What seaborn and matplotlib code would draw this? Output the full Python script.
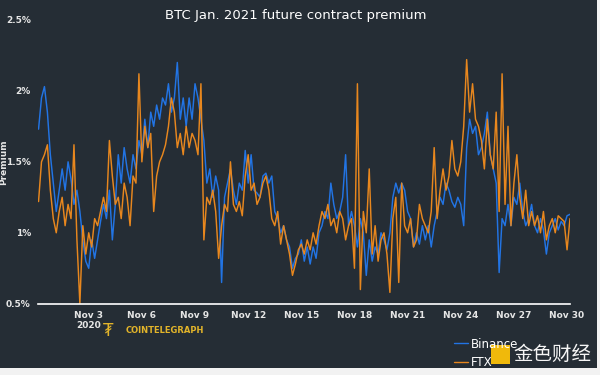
import numpy as np
import pandas as pd
import matplotlib
matplotlib.use("Agg")
import matplotlib.pyplot as plt
from matplotlib.patches import Rectangle
import seaborn as sns

# ---------------------------------------------------------------------------
# Data (premium in %, every 4 hours from Oct 31 04:00)
# ---------------------------------------------------------------------------
START = "2020-10-31 04:00"

binance = [
    1.73, 1.95, 2.03, 1.85, 1.55,
    1.35, 1.15, 1.30, 1.45, 1.30, 1.50,
    1.38, 1.20, 1.30, 1.15, 0.95, 0.80,
    0.75, 0.95, 0.82, 0.95, 1.08, 1.20,
    1.10, 1.30, 0.95, 1.20, 1.55, 1.35,
    1.60, 1.45, 1.35, 1.55, 1.45, 1.65,
    1.55, 1.80, 1.60, 1.85, 1.75, 1.90,
    1.80, 1.95, 1.90, 2.05, 1.85, 1.95,
    2.20, 1.80, 1.95, 1.75, 1.95, 1.80,
    2.05, 1.95, 1.80, 1.65, 1.35, 1.45,
    1.25, 1.40, 1.30, 0.65, 1.25, 1.35,
    1.45, 1.30, 1.20, 1.35, 1.30, 1.58,
    1.35, 1.55, 1.30, 1.28, 1.25, 1.40,
    1.42, 1.35, 1.40, 1.15, 1.10, 1.00,
    1.05, 0.95, 0.90, 0.75, 0.82, 0.85,
    0.95, 0.80, 0.90, 0.78, 0.90, 0.82,
    1.00, 1.05, 1.15, 1.10, 1.35, 1.20,
    1.10, 1.15, 1.25, 1.55, 1.05, 1.15,
    1.05, 0.90, 1.10, 1.00, 0.70, 0.95,
    0.80, 0.90, 0.85, 1.00, 0.95, 0.88,
    1.00, 1.25, 1.35, 1.28, 1.35, 1.30,
    1.15, 1.10, 0.90, 1.00, 0.92, 1.05,
    0.95, 1.05, 0.90, 1.05, 1.15, 1.25,
    1.20, 1.35, 1.30, 1.22, 1.18, 1.25,
    1.20, 1.05, 1.60, 1.80, 1.70, 1.75,
    1.55, 1.60, 1.70, 1.85, 1.55, 1.45,
    1.35, 0.72, 1.10, 1.05, 1.20, 1.05,
    1.25, 1.20, 1.35, 1.15, 1.05, 1.10,
    1.20, 1.05, 1.00, 1.10, 1.02, 0.85,
    1.00, 1.05, 1.10, 1.02, 1.08, 1.05,
    1.12, 1.13,
]

ftx = [
    1.22, 1.50, 1.55, 1.62, 1.30,
    1.10, 1.00, 1.15, 1.25, 1.05, 1.20,
    1.10, 1.62, 0.95, 0.50, 1.05, 0.85,
    1.00, 0.90, 1.10, 1.05, 1.15, 1.25,
    1.15, 1.65, 1.40, 1.20, 1.25, 1.10,
    1.35, 1.25, 1.05, 1.40, 1.35, 2.12,
    1.50, 1.75, 1.60, 1.70, 1.15, 1.40,
    1.50, 1.55, 1.62, 1.75, 1.95, 1.85,
    1.60, 1.70, 1.55, 1.75, 1.60, 1.70,
    1.65, 1.55, 2.05, 0.95, 1.25, 1.20,
    1.30, 1.15, 0.82, 1.05, 1.20, 1.15,
    1.50, 1.20, 1.15, 1.22, 1.12, 1.40,
    1.55, 1.30, 1.35, 1.20, 1.25, 1.35,
    1.40, 1.30, 1.10, 1.05, 1.15, 0.92,
    1.05, 0.95, 0.85, 0.70, 0.78, 0.88,
    0.92, 0.85, 0.95, 0.88, 1.00, 0.92,
    1.05, 1.15, 1.10, 1.20, 1.05, 1.10,
    1.00, 1.15, 1.10, 0.95, 1.05, 1.10,
    0.75, 2.05, 0.60, 1.15, 1.00, 1.45,
    0.85, 1.05, 0.80, 0.95, 1.00, 0.85,
    0.58, 1.10, 1.25, 0.65, 1.35, 1.05,
    1.00, 1.10, 0.90, 0.95, 1.20, 1.10,
    1.05, 1.00, 1.15, 1.60, 1.10, 1.30,
    1.45, 1.30, 1.40, 1.65, 1.45, 1.40,
    1.50, 1.75, 2.22, 1.85, 2.05, 1.80,
    1.75, 1.65, 1.45, 1.80, 1.55, 1.45,
    1.85, 1.15, 2.12, 1.20, 1.75, 1.05,
    1.35, 1.55, 1.25, 1.10, 1.30, 1.05,
    1.15, 1.05, 1.12, 1.00, 1.15, 0.95,
    1.05, 1.10, 1.00, 1.12, 1.10, 1.08,
    0.88, 1.10,
]

SERIES = ["Binance", "FTX"]
Y_TICKS = [0.5, 1.0, 1.5, 2.0, 2.5]
Y_LABELS = ["0.5%", "1%", "1.5%", "2%", "2.5%"]
X_TICKS = ["2020-11-03", "2020-11-06", "2020-11-09", "2020-11-12", "2020-11-15",
           "2020-11-18", "2020-11-21", "2020-11-24", "2020-11-27", "2020-11-30"]
X_LABELS = ["Nov 3\n2020", "Nov 6", "Nov 9", "Nov 12", "Nov 15",
            "Nov 18", "Nov 21", "Nov 24", "Nov 27", "Nov 30"]

BG = "#252d35"
TXT = "#e6e6e6"
COLORS = {"Binance": "#2274e4", "FTX": "#e8871e"}


def main():
    sns.set_theme(style="dark")
    plt.rcParams["font.family"] = ["DejaVu Sans"]

    times = pd.date_range(START, periods=len(binance), freq="4h")
    df = pd.DataFrame({"time": times, "Binance": binance, "FTX": ftx[:len(binance)]})
    long_df = df.melt(id_vars="time", value_vars=SERIES,
                      var_name="Exchange", value_name="Premium")

    fig = plt.figure(figsize=(6, 3.75), dpi=100, facecolor="#f2f2f2")
    # dark card, leaving a thin light margin at right and bottom
    fig.patches.append(Rectangle((0, 0.018), 0.995, 0.982, transform=fig.transFigure,
                                 facecolor=BG, edgecolor="none", zorder=-5))
    ax = fig.add_axes([0.063, 0.19, 0.887, 0.757])
    ax.patch.set_alpha(0)

    sns.lineplot(data=long_df, x="time", y="Premium", hue="Exchange",
                 hue_order=SERIES, palette=COLORS, linewidth=1.05, ax=ax,
                 legend=False)

    ax.set_ylim(0.5, 2.5)
    ax.set_xlim(times[0] - pd.Timedelta(hours=1), pd.Timestamp("2020-11-30 04:00"))
    ax.set_yticks(Y_TICKS)
    ax.set_yticklabels(Y_LABELS)
    ax.set_xticks(pd.to_datetime(X_TICKS))
    ax.set_xticklabels(X_LABELS)
    ax.tick_params(axis="both", colors=TXT, labelsize=6.5, length=3, width=0.8,
                   direction="out", pad=2)
    ax.tick_params(axis="x", length=0, pad=5)
    for lbl in ax.get_xticklabels() + ax.get_yticklabels():
        lbl.set_fontweight("bold")
        lbl.set_color(TXT)
    ax.grid(False)
    for side in ["top", "right", "left"]:
        ax.spines[side].set_visible(False)
    ax.spines["bottom"].set_color("#ffffff")
    ax.spines["bottom"].set_linewidth(1.2)

    ax.set_xlabel("")
    ax.set_ylabel("Premium", color=TXT, fontsize=6.5, fontweight="bold")
    ax.yaxis.set_label_coords(-0.056, 0.5)

    fig.text(0.493, 0.958, "BTC Jan. 2021 future contract premium", color="#ffffff",
             fontsize=9.5, ha="center", va="center")

    # legend
    handles = [plt.Line2D([], [], color=COLORS[s], lw=1.0) for s in SERIES]
    fig.legend(handles, SERIES, loc="upper left", bbox_to_anchor=(0.757, 0.1),
               frameon=False, fontsize=8.5, labelcolor="#ffffff",
               handlelength=1.2, handletextpad=0.2, labelspacing=0.45,
               borderaxespad=0, borderpad=0)

    # branding
    fig.text(0.21, 0.118, "COINTELEGRAPH", color="#e2b42a", fontsize=6,
             fontweight="bold", ha="left", va="center")
    fig.text(0.18, 0.118, "₮", color="#e2b42a", fontsize=12,
             ha="center", va="center")
    fig.text(0.985, 0.055, "金色财经", color="#f5f5f5", fontsize=14,
             family=["Noto Sans CJK SC", "DejaVu Sans"], ha="right", va="center")
    fig.patches.append(Rectangle((0.818, 0.03), 0.032, 0.05, transform=fig.transFigure,
                                 facecolor="#f0b90b", edgecolor="none", zorder=3))

    fig.savefig("out.png", dpi=100, facecolor=fig.get_facecolor())
    plt.close(fig)


if __name__ == "__main__":
    main()
